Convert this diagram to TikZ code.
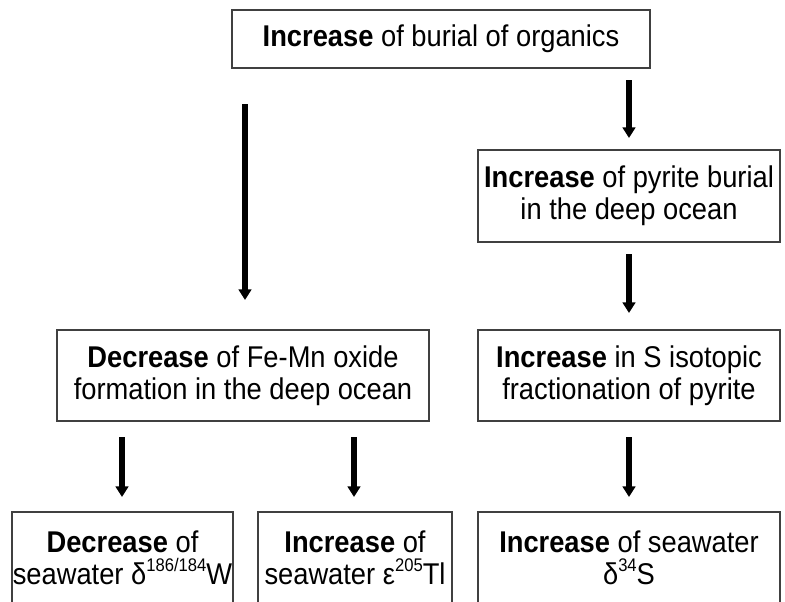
\documentclass[tikz,border=0pt]{standalone}
\usepackage{fontspec}
\setmainfont[FakeStretch=0.91]{Liberation Sans}
\usetikzlibrary{arrows.meta}
\newcommand{\mysup}[1]{\raisebox{0.42em}{\fontsize{13.7}{12}\selectfont #1}}
\begin{document}
\begin{tikzpicture}[x=0.75pt,y=-0.75pt,
  box/.style={draw=black!75,line width=0.8pt,fill=white,align=center,inner sep=0pt,
    font=\fontsize{22.5}{24}\selectfont},
  arr/.style={line width=4.5pt,-{Triangle[length=8pt,width=9.5pt]}}]
\useasboundingbox (0,0) rectangle (785,601);
\clip (0,0) rectangle (785,601);
% boxes
\node[box,minimum width=313.5pt,minimum height=43.5pt] (top) at (441,39) {\textbf{Increase} of burial of organics};
\node[box,minimum width=226.5pt,minimum height=69pt] (pyr) at (629,196) {\textbf{Increase} of pyrite burial\\in the deep ocean};
\node[box,minimum width=279pt,minimum height=68.25pt] (femn) at (243,375.5) {\textbf{Decrease} of Fe-Mn oxide\\formation in the deep ocean};
\node[box,minimum width=226.5pt,minimum height=68.25pt] (frac) at (629,375.5) {\textbf{Increase} in S isotopic\\fractionation of pyrite};
\node[box,minimum width=165.75pt,minimum height=68.25pt] (w) at (122.5,557.5) {\textbf{Decrease} of\\seawater δ\mysup{186/184}W};
\node[box,minimum width=145.5pt,minimum height=68.25pt] (tl) at (355,557.5) {\textbf{Increase} of\\seawater ε\mysup{205}Tl};
\node[box,minimum width=226.5pt,minimum height=68.25pt] (s) at (629,557.5) {\textbf{Increase} of seawater\\δ\mysup{34}S};
% arrow endpoints
\coordinate (a1s) at (245,104); \coordinate (a1e) at (245,300);
\coordinate (a2s) at (629,80);  \coordinate (a2e) at (629,138);
\coordinate (a3s) at (629,254); \coordinate (a3e) at (629,313);
\coordinate (a4s) at (122,437); \coordinate (a4e) at (122,497);
\coordinate (a5s) at (354,437); \coordinate (a5e) at (354,497);
\coordinate (a6s) at (629,437); \coordinate (a6e) at (629,497);
\draw[arr] (a1s) -- (a1e);
\draw[arr] (a2s) -- (a2e);
\draw[arr] (a3s) -- (a3e);
\draw[arr] (a4s) -- (a4e);
\draw[arr] (a5s) -- (a5e);
\draw[arr] (a6s) -- (a6e);
\end{tikzpicture}
\end{document}
